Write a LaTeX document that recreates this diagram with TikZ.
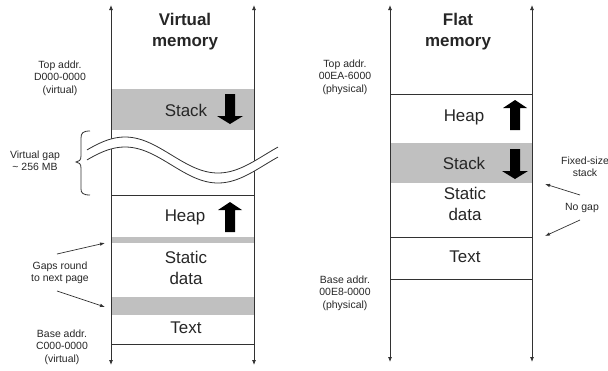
\documentclass[tikz,border=0pt]{standalone}
\usepackage{fontspec}
\setmainfont{Liberation Sans}
\usetikzlibrary{arrows.meta}
\definecolor{bandgray}{RGB}{192,192,192}
\definecolor{linecol}{RGB}{50,50,50}
\begin{document}
\begin{tikzpicture}[x=1bp,y=-1bp,
  ln/.style={draw=linecol, line width=0.8bp},
  body/.style={font=\fontsize{17}{20.5}\selectfont, align=center, inner sep=0pt, text=black!85},
  lbl/.style={font=\fontsize{10.5}{12.5}\selectfont, align=center, inner sep=0pt, text=black!85},
  ttl/.style={font=\fontsize{17}{21}\selectfont\bfseries, align=center, inner sep=0pt, text=black!85},
  axisline/.style={draw=linecol, line width=0.8bp, {Latex[length=5bp,width=4bp]}-{Latex[length=5bp,width=4bp]}},
  ptr/.style={draw=linecol, line width=0.7bp, -{Latex[length=5bp,width=3.5bp]}},
  downarrow/.pic={\fill[black] (-5,0) -- (5,0) -- (5,22) -- (13,22) -- (0,30) -- (-13,22) -- (-5,22) -- cycle;},
  uparrow/.pic={\fill[black] (-5,30) -- (5,30) -- (5,8) -- (12,8) -- (0,0) -- (-12,8) -- (-5,8) -- cycle;}
]
\useasboundingbox (0,0) rectangle (608,370);

% ---------------- Left panel: virtual memory ----------------
\fill[bandgray] (111,89) rectangle (254,130);
\fill[bandgray] (111,237) rectangle (254,243);
\fill[bandgray] (111,297) rectangle (254,315);
\draw[ln] (111,195) -- (254,195);
\draw[ln] (111,344) -- (254,344);

\coordinate (vlt) at (111,5);
\coordinate (vlb) at (111,365);
\coordinate (vrt) at (254,5);
\coordinate (vrb) at (254,365);
\draw[axisline] (vlt) -- (vlb);
\draw[axisline] (vrt) -- (vrb);

% wave cut
\fill[white] plot[domain=87:278, samples=80] (\x, {155-18*cos(1.93548*(\x-125))})
  -- plot[domain=278:87, samples=80] (\x, {165-18*cos(1.93548*(\x-125))}) -- cycle;
\draw[ln] plot[domain=87:278, samples=80] (\x, {155-18*cos(1.93548*(\x-125))});
\draw[ln] plot[domain=87:278, samples=80] (\x, {165-18*cos(1.93548*(\x-125))});

\node[ttl] (vtitle) at (185,32) {Virtual\\memory};
\node[body] (vstack) at (186,110) {Stack};
\node[body] (vheap) at (185,217) {Heap};
\node[body] (vstatic) at (186,268) {Static\\data};
\node[body] (vtext) at (186,328) {Text};
\pic at (230,94) {downarrow};
\pic at (230,202) {uparrow};

\node[lbl] (vtop) at (60,78) {Top addr.\\D000-0000\\(virtual)};
\node[lbl] (vgap) at (35,161) {Virtual gap\\\textasciitilde{} 256 MB};
\node[lbl] (vgaps) at (60,273) {Gaps round\\to next page};
\node[lbl] (vbase) at (62,347) {Base addr.\\C000-0000\\(virtual)};

% brace
\draw[ln] (90,131) .. controls (83,131) and (81,133) .. (81,138) -- (81,156)
  .. controls (81,160) and (79,162) .. (76,162)
  .. controls (79,162) and (81,164) .. (81,168) -- (81,189)
  .. controls (81,193) and (83,195) .. (90,195);

\coordinate (ga1) at (57,254);
\coordinate (gb1) at (105,243);
\coordinate (ga2) at (57,291);
\coordinate (gb2) at (105,307);
\draw[ptr] (ga1) -- (gb1);
\draw[ptr] (ga2) -- (gb2);

% ---------------- Right panel: flat memory ----------------
\fill[bandgray] (390,143) rectangle (532,183);
\draw[ln] (390,94) -- (532,94);
\draw[ln] (390,237) -- (532,237);
\draw[ln] (390,279) -- (532,279);

\coordinate (flt) at (390,5);
\coordinate (flb) at (390,362);
\coordinate (frt) at (532,5);
\coordinate (frb) at (532,362);
\draw[axisline] (flt) -- (flb);
\draw[axisline] (frt) -- (frb);

\node[ttl] (ftitle) at (458,32) {Flat\\memory};
\node[body] (fheap) at (464,117) {Heap};
\node[body] (fstack) at (464,163) {Stack};
\node[body] (fstatic) at (465,204) {Static\\data};
\node[body] (ftext) at (465,257) {Text};
\pic at (515,100) {uparrow};
\pic at (515,149) {downarrow};

\node[lbl] (ftop) at (345,77) {Top addr.\\00EA-6000\\(physical)};
\node[lbl] (fbase) at (345,293) {Base addr.\\00E8-0000\\(physical)};
\node[lbl] (ffix) at (585,167) {Fixed-size\\stack};
\node[lbl] (fnogap) at (582,208) {No gap};

\coordinate (na1) at (580,195);
\coordinate (nb1) at (545,184);
\coordinate (na2) at (580,220);
\coordinate (nb2) at (545,236);
\draw[ptr] (na1) -- (nb1);
\draw[ptr] (na2) -- (nb2);
\end{tikzpicture}
\end{document}
